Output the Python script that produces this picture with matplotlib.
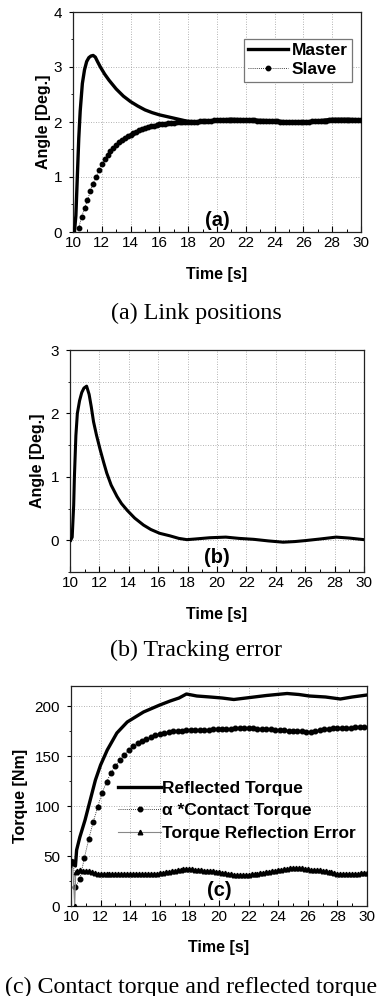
import numpy as np
import matplotlib
matplotlib.use("Agg")
import matplotlib.pyplot as plt
from matplotlib.ticker import MultipleLocator

plt.rcParams['font.family'] = ['Liberation Sans', 'DejaVu Sans']

# ---------------- data ----------------
# (a) Link positions
master_t = [10.1, 10.2, 10.3, 10.4, 10.5, 10.65, 10.8, 10.95, 11.1, 11.25, 11.4, 11.55, 11.7,
            11.9, 12.2, 12.5, 13.0, 13.5, 14.0, 14.5, 15.0, 15.5, 16.0, 16.5, 17.0, 17.5,
            18.0, 19.0, 20.0, 21.0, 22.0, 23.0, 24.0, 25.0, 26.0, 27.0, 28.0, 29.0, 30.0]
master_v = [0.0, 0.3, 1.0, 1.7, 2.2, 2.7, 2.95, 3.1, 3.17, 3.2, 3.21, 3.18, 3.1,
            3.0, 2.87, 2.76, 2.6, 2.47, 2.37, 2.29, 2.22, 2.17, 2.13, 2.1, 2.07, 2.04,
            2.01, 2.0, 2.03, 2.05, 2.04, 2.03, 2.02, 2.0, 2.0, 2.02, 2.05, 2.05, 2.04]

slave_t0, slave_dt = 10.4, 0.2
slave_v = [0.08, 0.28, 0.43, 0.58, 0.74, 0.88, 1.00, 1.12, 1.23, 1.32,
           1.40, 1.47, 1.53, 1.58, 1.63, 1.67, 1.71, 1.74, 1.77, 1.80,
           1.82, 1.85, 1.87, 1.89, 1.90, 1.92, 1.93, 1.95, 1.96, 1.97,
           1.97, 1.98, 1.99, 1.99, 2.00, 2.00, 2.00, 2.00, 2.00, 2.00,
           2.00, 2.00, 2.01, 2.01, 2.01, 2.02, 2.02, 2.03, 2.03, 2.03,
           2.04, 2.04, 2.04, 2.04, 2.04, 2.04, 2.03, 2.03, 2.03, 2.03,
           2.03, 2.03, 2.02, 2.02, 2.02, 2.02, 2.02, 2.01, 2.01, 2.01,
           2.00, 2.00, 2.00, 2.00, 2.00, 2.00, 2.00, 2.00, 2.00, 2.00,
           2.00, 2.01, 2.01, 2.01, 2.01, 2.02, 2.02, 2.03, 2.03, 2.04,
           2.04, 2.04, 2.04, 2.04, 2.04, 2.04, 2.03, 2.03, 2.03]

# (b) Tracking error
err_ang_t = [10.05, 10.15, 10.2, 10.25, 10.3, 10.4, 10.5, 10.65, 10.8, 10.95, 11.13, 11.3,
             11.45, 11.6, 11.8, 12.05, 12.3, 12.5, 12.8, 13.2, 13.5, 13.9, 14.4, 15.0,
             15.5, 16.1, 16.8, 17.4, 17.95, 18.5, 19.5, 20.6, 21.5, 22.5, 23.5, 24.5,
             25.3, 26.0, 27.0, 28.1, 29.0, 30.0]
err_ang_v = [0.0, 0.05, 0.3, 0.55, 1.0, 1.65, 2.0, 2.2, 2.33, 2.4, 2.43, 2.3,
             2.1, 1.87, 1.66, 1.43, 1.22, 1.06, 0.87, 0.69, 0.58, 0.47, 0.35, 0.24,
             0.17, 0.11, 0.07, 0.03, 0.01, 0.02, 0.04, 0.05, 0.03, 0.015, -0.01, -0.03,
             -0.02, -0.005, 0.02, 0.05, 0.035, 0.01]

# (c) Torques
refl_t = [10.0, 10.1, 10.2, 10.3, 10.38, 10.6, 10.95, 11.3, 11.65, 12.0, 12.45, 13.1,
          13.8, 14.9, 16.0, 16.7, 17.3, 17.8, 18.5, 19.4, 20.2, 21.0, 22.1, 23.2,
          24.6, 25.4, 26.1, 27.2, 28.2, 29.0, 30.0]
refl_v = [40, 45, 42, 40, 56, 69, 86, 106, 126, 141, 156, 173,
          184, 194, 201, 205, 208, 212, 210, 209, 208, 206.5, 208.5, 210.5,
          212.5, 211.5, 210, 209, 207, 209, 211]

contact_start_t = [10.15]
contact_start_v = [44]
contact_t0, contact_dt = 10.3, 0.3
contact_v = [19, 27, 48, 67, 84, 99, 113, 124, 133, 140,
             146, 151, 156, 160, 163, 165, 167, 169, 171, 172,
             173, 174, 175, 175, 175.5, 176, 176, 176, 176, 176.5,
             176.5, 177, 177, 177, 177.5, 177.5, 178, 178, 178, 178,
             178, 177.5, 177.5, 177, 177, 176.5, 176, 176, 175.5, 175,
             175, 175, 174.5, 174.5, 175, 176, 177, 177.5, 178, 178,
             178, 178.5, 178.5, 179, 179, 179]

terr_start_t = [10.1, 10.25, 10.32]
terr_start_v = [45, 0, 34]
terr_t0, terr_dt = 10.4, 0.2
terr_v = [35, 36, 35.5, 35, 35, 34, 33, 32.5,
          32, 32, 32, 32, 32, 32, 32, 32, 32, 32, 32, 32, 32, 32, 32, 32, 32, 32,
          32.5, 32.5, 33, 33.5, 34, 34.5, 35, 35.5, 36, 36.5, 37, 37.5,
          37.5, 37, 36.5, 36, 36, 35.5, 35.5, 35, 35, 34.5,
          34, 33.5, 33, 32.5, 32, 31.5, 31, 31, 31, 31,
          31.5, 32, 32, 32.5, 33, 33.5, 34, 34.5, 35, 35.5,
          36, 36.5, 37, 37.5, 38, 38.5, 38.5, 38, 38, 37.5,
          37, 36.5, 36.5, 36, 36, 35.5, 35, 34.5, 34, 33,
          32.5, 32, 32, 32, 32, 32, 32.5, 32.5, 33, 33,
          33]

slave_t = slave_t0 + slave_dt * np.arange(len(slave_v))
contact_t = np.concatenate([contact_start_t, contact_t0 + contact_dt * np.arange(len(contact_v))])
contact_all = np.concatenate([contact_start_v, contact_v])
terr_t = np.concatenate([terr_start_t, terr_t0 + terr_dt * np.arange(len(terr_v))])
terr_all = np.concatenate([terr_start_v, terr_v])

x_ticks = list(range(10, 31, 2))

# ---------------- figure ----------------
W, H = 378, 996
fig = plt.figure(figsize=(W / 100, H / 100), dpi=100)


def add_ax(left, top, right, bottom):
    return fig.add_axes([left / W, 1 - bottom / H, (right - left) / W, (bottom - top) / H])


TICK_FS = 11
LAB_FS = 11.5
SPINE_C = '#222222'
GRID_KW = dict(color='#9a9a9a', linestyle=(0, (1, 2)), linewidth=0.6)


def style(ax, ymajor, yminor, ylim, ylabel, panel, panel_y, xlab_y, ylab_x, grid_minor=False):
    ax.set_xlim(10, 30)
    ax.set_ylim(*ylim)
    ax.set_xticks(x_ticks)
    ax.xaxis.set_minor_locator(MultipleLocator(1))
    ax.yaxis.set_major_locator(MultipleLocator(ymajor))
    ax.yaxis.set_minor_locator(MultipleLocator(yminor))
    ax.tick_params(axis='x', which='major', direction='in', length=4, width=0.8,
                   labelsize=TICK_FS, pad=3, top=False)
    ax.tick_params(axis='x', which='minor', direction='in', length=2.5, width=0.7, top=False)
    ax.tick_params(axis='y', which='major', direction='out', length=3, width=0.8,
                   labelsize=TICK_FS, pad=5, right=False)
    ax.tick_params(axis='y', which='minor', direction='out', length=1.5, width=0.6, right=False)
    ax.grid(True, which='major', **GRID_KW)
    if grid_minor:
        ax.grid(True, which='minor', axis='y', **GRID_KW)
    for s in ax.spines.values():
        s.set_color(SPINE_C)
        s.set_linewidth(0.9)
    ax.set_xlabel('Time [s]', fontsize=LAB_FS, fontweight='bold')
    ax.set_ylabel(ylabel, fontsize=LAB_FS, fontweight='bold')
    ax.xaxis.label.set_va('center')
    ax.yaxis.label.set_va('center')
    ax.xaxis.set_label_coords(0.5, xlab_y)
    ax.yaxis.set_label_coords(ylab_x, 0.5)
    ax.text(20, panel_y, panel, ha='center', va='center', fontsize=14.5, fontweight='bold')


# (a)
axa = add_ax(73, 12, 361, 232)
axa.plot(master_t, master_v, color='black', lw=2.4, label='Master', zorder=3)
axa.plot(slave_t, slave_v, color='black', lw=0.6, linestyle=(0, (1, 1.5)), marker='o',
         markersize=3.2, label='Slave', zorder=3)
style(axa, 1, 0.5, (0, 4), 'Angle [Deg.]', '(a)', 0.2, -0.195, -0.104)
leg = axa.legend(loc='upper right', bbox_to_anchor=(0.968, 0.878),
                 prop={'weight': 'bold', 'size': 12.5}, frameon=True, fancybox=False,
                 edgecolor='#777777', framealpha=1, handlelength=2.3, handletextpad=0.2,
                 borderpad=0.25, labelspacing=0.22, borderaxespad=0)
leg.get_frame().set_linewidth(0.9)

# (b)
axb = add_ax(70, 350, 364, 572)
axb.plot(err_ang_t, err_ang_v, color='black', lw=2.2, zorder=3)
style(axb, 1, 0.5, (-0.5, 3), 'Angle [Deg.]', '(b)', -0.27, -0.19, -0.109, grid_minor=True)

# (c)
axc = add_ax(71, 686, 367, 906)
axc.plot(refl_t, refl_v, color='black', lw=2.4, label='Reflected Torque', zorder=4)
axc.plot(contact_t, contact_all, color='black', lw=0.6, linestyle=(0, (1, 1.5)), marker='o',
         markersize=3.3, label=r'α *Contact Torque', zorder=3)
axc.plot(terr_t, terr_all, color='#888888', lw=0.8, marker='^', markersize=3.3,
         markerfacecolor='black', markeredgecolor='black', label='Torque Reflection Error',
         zorder=3)
style(axc, 50, 25, (0, 220), 'Torque [Nm]', '(c)', 16, -0.19, -0.172)
axc.legend(loc='upper left', bbox_to_anchor=(0.159, 0.57), frameon=False,
           prop={'weight': 'bold', 'size': 12.5}, handlelength=2.5, handletextpad=0.05,
           labelspacing=0.42, borderaxespad=0, borderpad=0)

# captions
CAP_KW = dict(ha='center', va='center', fontsize=17.3, family=['Liberation Serif', 'DejaVu Serif'])
fig.text(196 / W, 1 - 313 / H, '(a) Link positions', **CAP_KW)
fig.text(196 / W, 1 - 650 / H, '(b) Tracking error', **CAP_KW)
fig.text(191 / W, 1 - 987 / H, '(c) Contact torque and reflected torque', **CAP_KW)

fig.savefig('out.png', dpi=100)
